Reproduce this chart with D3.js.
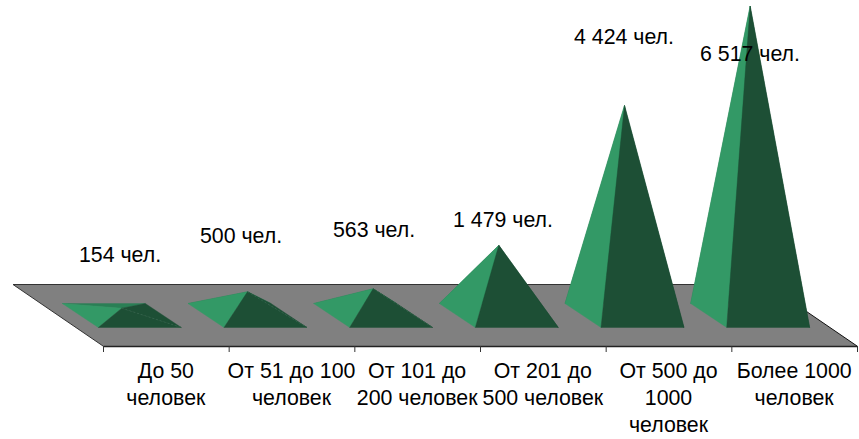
<!DOCTYPE html>
<html><head><meta charset="utf-8">
<script src="https://cdn.jsdelivr.net/npm/d3@7"></script>
<style>html,body{margin:0;padding:0;background:#fff}svg{display:block}text{font-family:"Liberation Sans",Arial,sans-serif;fill:#000}</style>
</head><body><svg id="c" width="859" height="439"></svg>
<script>
const categories = ["До 50\nчеловек","От 51 до 100\nчеловек","От 101 до\n200 человек","От 201 до\n500 человек","От 500 до\n1000\nчеловек","Более 1000\nчеловек"];
const values = [154,500,563,1479,4424,6517];
const valueLabels = ["154 чел.","500 чел.","563 чел.","1 479 чел.","4 424 чел.","6 517 чел."];
const labelCenters = [120,241,374,503,624,750];
const labelBaselines = [262,243,237,227,44,61];

const svg = d3.select("#c");
const x = d3.scaleBand().domain(categories).range([103,857]);
const edge = d3.scaleLinear().domain([0,categories.length]).range([103,857]);
const h = d3.scaleLinear().domain([0,6517]).range([0,309.5]);
const line = d3.line();
const floorFront = 346, floorBack = 284.5, floorShift = 90;
const baseFront = 327.5, baseBack = 303.5, baseShift = 36, half = 41.5;

// floor
svg.append("path").attr("d", line([[103-floorShift,floorBack],[857-floorShift,floorBack],[857,floorFront],[103,floorFront]])+"Z").attr("fill","#808080");
svg.append("path").attr("d", line([[857-floorShift,floorBack],[103-floorShift,floorBack],[103,floorFront]])).attr("fill","none").attr("stroke","#333").attr("stroke-width",1);
svg.append("path").attr("d", line([[857-floorShift,floorBack],[857,floorFront]])).attr("fill","none").attr("stroke","#111").attr("stroke-width",1);

// axis
const axis = d3.axisBottom(edge).ticks(categories.length).tickSize(6).tickSizeOuter(0).tickFormat("");
const ag = svg.append("g").attr("transform",`translate(0,${floorFront})`).call(axis);
ag.select(".domain").attr("stroke","#222").attr("stroke-width",1.6);
ag.selectAll(".tick line").attr("stroke","#333");

// pyramids
const pg = svg.selectAll("g.pyr").data(values).join("g").attr("class","pyr");
pg.each(function(v,i){
  const g = d3.select(this);
  const cxFront = x(categories[i]) + x.bandwidth()/2 - 26;
  const cx = cxFront - baseShift/2;
  const FL=[cxFront-half,baseFront], FR=[cxFront+half,baseFront], BL=[cxFront-half-baseShift,baseBack], BR=[cxFront+half-baseShift,baseBack];
  const A=[cx,(baseFront+baseBack)/2-h(v)];
  const tri=(p,c,s)=>g.append("path").attr("d",line(p)+"Z").attr("fill",c).attr("stroke",s||c).attr("stroke-width",0.4);
  tri([BL,BR,A],"#2a7f55");
  tri([BR,FR,A],"#1d4f35");
  tri([BL,FL,A],"#339966");
  tri([FL,FR,A],"#1d4f35");
  g.append("path").attr("d",line([A,FR])).attr("stroke","#3a6b52").attr("stroke-width",0.6).attr("stroke-dasharray","2,2").attr("opacity",v<700?1:0);
});

// value labels
svg.selectAll("text.val").data(valueLabels).join("text").attr("class","val")
  .attr("x",(d,i)=>labelCenters[i]).attr("y",(d,i)=>labelBaselines[i])
  .attr("text-anchor","middle").attr("font-size",21.33).text(d=>d);

// category labels
svg.selectAll("text.cat").data(categories).join("text").attr("class","cat")
  .attr("text-anchor","middle").attr("font-size",21.33)
  .each(function(d){
    d3.select(this).selectAll("tspan").data(d.split("\n")).join("tspan")
      .attr("x",x(d)+x.bandwidth()/2).attr("y",(t,j)=>378+j*27).text(t=>t);
  });
</script></body></html>
